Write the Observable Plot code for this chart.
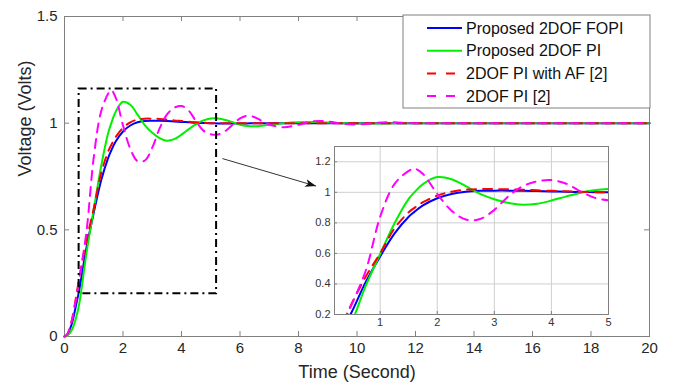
<!DOCTYPE html>
<html><head><meta charset="utf-8">
<script src="https://cdn.jsdelivr.net/npm/d3@7"></script>
<script src="https://cdn.jsdelivr.net/npm/@observablehq/plot@0.6"></script>
<style>
body{margin:0;background:#fff;}
#wrap{position:relative;width:674px;height:385px;font-family:"Liberation Sans",Arial,Helvetica,sans-serif;}
#wrap > svg{position:absolute;}
</style></head><body><div id="wrap"></div>
<script>
// ---- data ----
const time = [0, 0.1, 0.25, 0.4, 0.5, 0.75, 1, 1.25, 1.5, 1.6, 1.75, 2, 2.25, 2.5, 2.75, 3, 3.25, 3.5, 3.75, 4, 4.25, 4.5, 4.75, 5, 5.25, 5.5, 5.75, 6, 6.25, 6.5, 6.75, 7, 7.5, 8, 8.5, 9, 9.5, 10, 11, 12, 14, 16, 18, 20];
const fopi2dof = [0, 0.01, 0.06, 0.15, 0.215, 0.415, 0.58, 0.73, 0.84, 0.872, 0.914, 0.961, 0.989, 1.004, 1.01, 1.011, 1.011, 1.01, 1.008, 1.006, 1.004, 1.002, 1.001, 1.0, 0.999, 0.998, 0.998, 0.998, 0.999, 1, 1, 1, 1, 1, 1, 1, 1, 1, 1, 1, 1, 1, 1, 1];
const pi2dof = [0, 0.004, 0.03, 0.09, 0.15, 0.39, 0.596, 0.796, 0.957, 1.0, 1.054, 1.1, 1.086, 1.04, 0.99, 0.955, 0.93, 0.918, 0.925, 0.946, 0.972, 0.996, 1.013, 1.022, 1.022, 1.015, 1.004, 0.993, 0.987, 0.985, 0.988, 0.993, 1.0, 1.004, 1.005, 1.003, 1.0, 0.998, 0.999, 1, 1, 1, 1, 1];
const piAF = [0, 0.012, 0.075, 0.19, 0.27, 0.45, 0.6, 0.763, 0.87, 0.898, 0.935, 0.978, 1.004, 1.017, 1.021, 1.021, 1.02, 1.017, 1.013, 1.01, 1.007, 1.004, 1.002, 1.0, 1, 1, 1, 1, 1, 1, 1, 1, 1, 1, 1, 1, 1, 1, 1, 1, 1, 1, 1, 1];
const piRef = [0, 0.012, 0.075, 0.18, 0.265, 0.49, 0.84, 1.054, 1.14, 1.155, 1.12, 0.99, 0.88, 0.822, 0.825, 0.885, 0.975, 1.04, 1.072, 1.08, 1.058, 1.008, 0.965, 0.948, 0.947, 0.963, 0.993, 1.022, 1.035, 1.028, 1.01, 0.994, 0.981, 0.993, 1.009, 1.008, 0.997, 0.994, 1.004, 1, 1, 1, 1, 1];

const seriesNames = ["Proposed 2DOF FOPI", "Proposed 2DOF PI", "2DOF PI with AF [2]", "2DOF PI [2]"];
const seriesValues = [fopi2dof, pi2dof, piAF, piRef];
const seriesColors = ["#0000ff", "#00f000", "#ff0000", "#ff00ff"];
const seriesDash = [null, null, "9,7", "9,7"];

const xTicks = [0, 2, 4, 6, 8, 10, 12, 14, 16, 18, 20];
const yTicks = [0, 0.5, 1, 1.5];
const insetXTicks = [1, 2, 3, 4, 5];
const insetYTicks = [0.2, 0.4, 0.6, 0.8, 1, 1.2];
const zoomBox = [{x1: 0.5, x2: 5.2, y1: 0.2, y2: 1.16}];
const arrowLink = [{x1: 5.4, y1: 0.834, x2: 8.6, y2: 0.705}];

// ---- build table ----
const rows = seriesNames.flatMap((s, k) => time.map((t, i) => ({t, v: seriesValues[k][i], s, k})));

const FONT = '"Liberation Sans", Arial, Helvetica, sans-serif';
const W = 674, H = 385, mL = 64, mR = 25, mT = 16, mB = 49;
const fW = W - mL - mR, fH = H - mT - mB;
const AX = "#808080";

function lineMarks(clip) {
  return seriesNames.map((s, k) => Plot.line(rows.filter(d => d.k === k), {
    x: "t", y: "v", stroke: seriesColors[k], strokeWidth: 2,
    strokeDasharray: seriesDash[k] || undefined, curve: "catmull-rom", clip
  }));
}

const main = Plot.plot({
  width: W, height: H, marginLeft: mL, marginRight: mR, marginTop: mT, marginBottom: mB,
  style: {fontFamily: FONT, fontSize: "15px", color: "#262626", background: "white"},
  x: {domain: [0, 20], ticks: xTicks, tickSize: 0, tickPadding: 6, tickFormat: d => String(d), label: null},
  y: {domain: [0, 1.5], ticks: yTicks, tickSize: 0, tickPadding: 7, tickFormat: d => String(d), label: null},
  marks: [
    Plot.frame({stroke: AX}),
    Plot.tickX(xTicks, {x: d => d, insetTop: fH - 5, stroke: AX}),
    Plot.tickX(xTicks, {x: d => d, insetBottom: fH - 5, stroke: AX}),
    Plot.tickY(yTicks, {y: d => d, insetRight: fW - 5, stroke: AX}),
    Plot.tickY(yTicks, {y: d => d, insetLeft: fW - 5, stroke: AX}),
    ...lineMarks(false),
    Plot.rect(zoomBox, {x1: "x1", x2: "x2", y1: "y1", y2: "y2", fill: "none", stroke: "black", strokeWidth: 2, strokeDasharray: "8,4,2,4"}),
    Plot.link(arrowLink, {x1: "x1", y1: "y1", x2: "x2", y2: "y2", stroke: "#333", strokeWidth: 1}),
    Plot.text(["Time (Second)"], {frameAnchor: "bottom", dy: 36, fontSize: 18, fill: "#262626", lineAnchor: "middle"}),
    Plot.text(["Voltage (Volts)"], {frameAnchor: "left", dx: -39, rotate: -90, fontSize: 18, fill: "#262626", lineAnchor: "middle"})
  ]
});

// arrow head
const svgM = d3.select(main);
const defs = svgM.append("defs");
defs.append("marker").attr("id", "ahead").attr("markerUnits", "userSpaceOnUse")
  .attr("markerWidth", 12).attr("markerHeight", 10).attr("refX", 11).attr("refY", 4)
  .attr("orient", "auto").append("path").attr("d", "M0,0 L11,4 L0,8 L3,4 Z").attr("fill", "#111");
svgM.selectAll('g[aria-label="link"] path').attr("marker-end", "url(#ahead)");

// legend
const lg = svgM.append("g").attr("font-family", FONT).attr("font-size", 16).attr("fill", "#111").attr("text-anchor", "start");
const lgX = 403, lgY = mT - 1, lgW = W - mR - lgX + 1, lgH = 93;
lg.append("rect").attr("x", lgX).attr("y", lgY).attr("width", lgW).attr("height", lgH)
  .attr("fill", "white").attr("stroke", AX);
seriesNames.forEach((s, k) => {
  const y = lgY + 13 + k * 22.7;
  lg.append("line").attr("x1", lgX + 24).attr("x2", lgX + 59).attr("y1", y).attr("y2", y)
    .attr("stroke", seriesColors[k]).attr("stroke-width", 2)
    .attr("stroke-dasharray", seriesDash[k] ? "9,10" : null);
  lg.append("text").attr("x", lgX + 63).attr("y", y).attr("dy", "0.35em").attr("text-anchor", "start").text(s);
});

// inset
const iL = 30, iR = 8, iT = 2, iB = 20, ifW = 274, ifH = 168;
const inset = Plot.plot({
  width: iL + ifW + iR, height: iT + ifH + iB, marginLeft: iL, marginRight: iR, marginTop: iT, marginBottom: iB,
  style: {fontFamily: FONT, fontSize: "11px", color: "#333", background: "transparent"},
  x: {domain: [0.2, 5], ticks: insetXTicks, tickSize: 0, tickPadding: 4, tickFormat: d => String(d), label: null},
  y: {domain: [0.2, 1.3], ticks: insetYTicks, tickSize: 0, tickPadding: 4, tickFormat: d => String(d), label: null},
  marks: [
    Plot.frame({fill: "white"}),
    Plot.ruleX(insetXTicks, {x: d => d, stroke: "#cfcfcf"}),
    Plot.ruleY(insetYTicks, {y: d => d, stroke: "#cfcfcf"}),
    Plot.tickX(insetXTicks, {x: d => d, insetTop: ifH - 3, stroke: AX}),
    Plot.tickY(insetYTicks, {y: d => d, insetRight: ifW - 3, stroke: AX}),
    ...lineMarks(true),
    Plot.frame({stroke: AX})
  ]
});

const wrap = document.getElementById("wrap");
main.style.left = "0px"; main.style.top = "0px";
inset.style.left = (334 - iL) + "px"; inset.style.top = (146 - iT) + "px";
wrap.appendChild(main);
wrap.appendChild(inset);
</script>
</body></html>
